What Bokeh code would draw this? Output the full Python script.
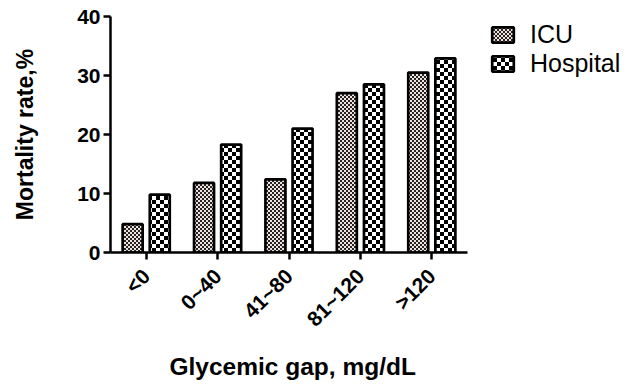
import math, zlib, struct, base64
from bokeh.plotting import figure
from bokeh.models import (ColumnDataSource, Legend, LegendItem, ImageURLTexture,
                          Range1d, FixedTicker, Title)
from bokeh.transform import dodge
from bokeh.embed import file_html
from bokeh.resources import INLINE

# ---- data ----
categories = ["<0", "0~40", "41~80", "81~120", ">120"]
icu = [4.8, 11.8, 12.4, 27.0, 30.5]
hospital = [9.8, 18.3, 21.0, 28.5, 32.9]
y_ticks = [0, 10, 20, 30, 40]

FONT = "Liberation Sans"
W, H = 638, 389
LEFT, TOP, BOTTOM = 110, 16, 137
AXIS_PX = 357  # pixel length of the category axis


def checker_url(cell, dark, light):
    n = cell * 2
    rows = []
    for yy in range(n):
        row = bytearray([0])
        for xx in range(n):
            c = dark if ((xx // cell) + (yy // cell)) % 2 == 0 else light
            row += bytes(c)
        rows.append(bytes(row))
    raw = b"".join(rows)

    def chunk(t, d):
        return struct.pack(">I", len(d)) + t + d + struct.pack(">I", zlib.crc32(t + d) & 0xffffffff)

    png = (b"\x89PNG\r\n\x1a\n"
           + chunk(b"IHDR", struct.pack(">IIBBBBB", n, n, 8, 2, 0, 0, 0))
           + chunk(b"IDAT", zlib.compress(raw))
           + chunk(b"IEND", b""))
    return "data:image/png;base64," + base64.b64encode(png).decode()


fine = ImageURLTexture(url=checker_url(2, (40, 36, 36), (236, 226, 222)), repetition="repeat")
coarse = ImageURLTexture(url=checker_url(4, (0, 0, 0), (255, 255, 255)), repetition="repeat")

centers = [i + 0.5 for i in range(len(categories))]
source = ColumnDataSource(dict(
    xc=centers,
    icu=icu,
    hospital=hospital,
    pat_icu=["chk_fine"] * len(categories),
    pat_hosp=["chk_coarse"] * len(categories),
))

frame_w = W - LEFT
p = figure(
    width=W, height=H,
    x_range=Range1d(0, len(categories) * frame_w / AXIS_PX),
    y_range=Range1d(0, 40),
    output_backend="svg", toolbar_location=None,
    min_border_left=LEFT, min_border_right=0,
    min_border_top=TOP, min_border_bottom=BOTTOM,
)

r_icu = p.vbar(x=dodge("xc", -0.19), top="icu", width=0.28, source=source,
               fill_color="white", line_color="black", line_width=2.7,
               hatch_pattern="pat_icu", hatch_extra={"chk_fine": fine})
r_hosp = p.vbar(x=dodge("xc", 0.19), top="hospital", width=0.28, source=source,
                fill_color="white", line_color="black", line_width=2.7,
                hatch_pattern="pat_hosp", hatch_extra={"chk_coarse": coarse})

p.xgrid.visible = False
p.ygrid.visible = False
p.outline_line_color = None

for ax in (p.xaxis[0], p.yaxis[0]):
    ax.axis_line_width = 2.5
    ax.axis_line_color = "black"
    ax.major_tick_line_width = 2.5
    ax.major_tick_line_color = "black"
    ax.major_tick_out = 7
    ax.major_tick_in = 0
    ax.minor_tick_line_color = None
    ax.major_label_text_font = FONT
    ax.major_label_text_font_style = "bold"
    ax.major_label_text_font_size = "21px"
    ax.major_label_text_color = "black"
    ax.axis_label_text_font = FONT
    ax.axis_label_text_font_style = "bold"
    ax.axis_label_text_color = "black"

p.yaxis.ticker = FixedTicker(ticks=y_ticks)
p.yaxis.major_label_standoff = 3
p.yaxis.axis_label = "Mortality rate,%"
p.yaxis.axis_label_text_font_size = "23px"
p.yaxis.axis_label_standoff = 36

p.xaxis.ticker = FixedTicker(ticks=centers)
p.xaxis.major_label_overrides = {c: lab for c, lab in zip(centers, categories)}
p.xaxis.bounds = (0, len(categories))
p.xaxis.major_label_orientation = math.pi / 4
p.xaxis.major_label_standoff = 13

xtitle = Title(text="Glycemic gap, mg/dL", align="left", offset=59, standoff=19,
               text_font=FONT, text_font_style="bold", text_font_size="24.5px",
               text_color="black")
p.add_layout(xtitle, "below")

legend = Legend(
    items=[LegendItem(label="ICU", renderers=[r_icu]),
           LegendItem(label="Hospital", renderers=[r_hosp])],
    location=(379, 174),
    orientation="vertical",
    glyph_width=27, glyph_height=19,
    label_standoff=14, spacing=0, padding=0, margin=0,
    label_text_font=FONT, label_text_font_size="25px", label_text_color="black",
    border_line_color=None, background_fill_alpha=0,
)
p.add_layout(legend, "center")

open("out.html", "w").write(file_html(p, INLINE))
